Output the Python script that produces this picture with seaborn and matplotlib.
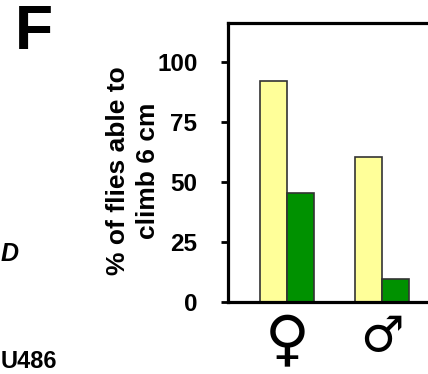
import matplotlib
matplotlib.use("Agg")
import matplotlib.pyplot as plt
import seaborn as sns
import pandas as pd

# Data
sexes = ["\u2640", "\u2642"]
groups = ["control", "RU486"]
control_vals = [92, 60.5]
treated_vals = [45.5, 9.5]
yticks = [0, 25, 50, 75, 100]

df = pd.DataFrame({
    "sex": sexes * 2,
    "group": [groups[0]] * 2 + [groups[1]] * 2,
    "value": control_vals + treated_vals,
})

sns.set_theme(style="white")
plt.rcParams["font.family"] = ["Liberation Sans", "DejaVu Sans"]
plt.rcParams["text.color"] = "black"
plt.rcParams["axes.labelcolor"] = "black"
plt.rcParams["xtick.color"] = "black"
plt.rcParams["ytick.color"] = "black"

fig = plt.figure(figsize=(4.28, 3.74), dpi=100)
ax = fig.add_axes([228 / 428, 72 / 374, 200 / 428, 279 / 374])

sns.barplot(data=df, x="sex", y="value", hue="group", order=sexes,
            hue_order=groups, palette=["#FFFF99", "#009100"], saturation=1,
            width=0.57, gap=0, edgecolor="#333333", linewidth=1.2,
            legend=False, ax=ax, errorbar=None)

ax.set_xlim(-0.621, 1.484)
ax.set_ylim(0, 116.3)
ax.set_yticks(yticks)
ax.set_yticklabels([str(t) for t in yticks], fontsize=17.5, fontweight="bold",
                   color="black")
ax.set_xlabel("")
ax.set_ylabel("% of flies able to\nclimb 6 cm", fontsize=19, fontweight="bold",
              linespacing=1.3, color="black")
ax.yaxis.set_label_coords(-0.34, 0.47)

for side in ["left", "bottom", "top"]:
    ax.spines[side].set_linewidth(2.3)
    ax.spines[side].set_color("black")
ax.spines["right"].set_visible(False)

ax.tick_params(axis="y", direction="out", length=5, width=2, color="black",
               pad=17, left=True)
ax.tick_params(axis="x", length=0, pad=8)
for lab, fs in zip(ax.get_xticklabels(), [44, 35]):
    lab.set_fontsize(fs)
    lab.set_family(["DejaVu Sans"])
    lab.set_color("black")

fig.text(15 / 428, 1 - 3 / 374, "F", fontsize=45, fontweight="bold",
         ha="left", va="top")
fig.text(1 / 428, 1 - 254 / 374, "D", fontsize=18, fontweight="bold",
         fontstyle="italic", ha="left", va="center")
fig.text(1 / 428, 1 - 350 / 374, "U486", fontsize=17, fontweight="bold",
         ha="left", va="top")

fig.savefig("out.png", dpi=100)
